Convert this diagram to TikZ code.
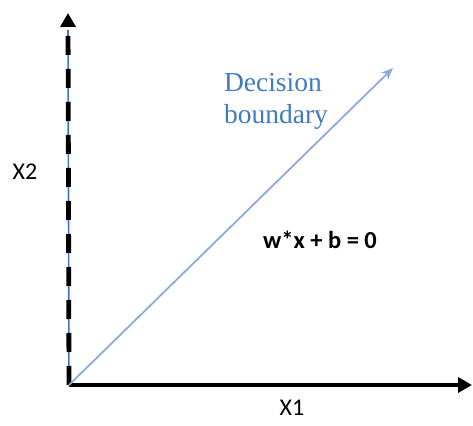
\documentclass[tikz,border=0pt]{standalone}
\usepackage{fontspec}
\setmainfont{Liberation Serif}
\newfontfamily\calfont{Carlito}
\usetikzlibrary{arrows.meta,positioning}
\definecolor{axisblue}{HTML}{4472C4}
\definecolor{lineblue}{HTML}{8EAADB}
\definecolor{textblue}{HTML}{3F7CBF}

\begin{document}
\begin{tikzpicture}[
    x=1pt, y=1pt,
    axis/.style={line width=4.8pt, black, -{Triangle[length=14pt, width=15pt]}},
    lbl/.style={font=\calfont\fontsize{24}{28}\selectfont, inner sep=0pt},
    boundary/.style={line width=1.8pt, lineblue, -{Stealth[length=12pt, width=10pt]}}
]
\useasboundingbox (0,0) rectangle (473,425);
\coordinate (o) at (69,40);
\coordinate (ytop) at (68,412);
\coordinate (xend) at (472,40);
\coordinate (dend) at (393,357);

\draw[axisblue, line width=1.6pt] (o) -- (68,395);
\draw[axis, dash pattern=on 19pt off 14pt] (o) -- (ytop);
\draw[axis] (o) -- (xend);
\draw[boundary] (o) -- (dend);

\node[lbl] (x2) at (25,253) {X2};
\node[lbl] (x1) at (292,17) {X1};
\node[font=\calfont\bfseries\fontsize{24.5}{28}\selectfont, inner sep=0pt] (eq) at (320,185) {w*x + b = 0};
\node[align=left, text=textblue, font=\fontsize{27.5}{32}\selectfont, inner sep=0pt] (db) at (276,324) {Decision\\boundary};
\end{tikzpicture}
\end{document}
